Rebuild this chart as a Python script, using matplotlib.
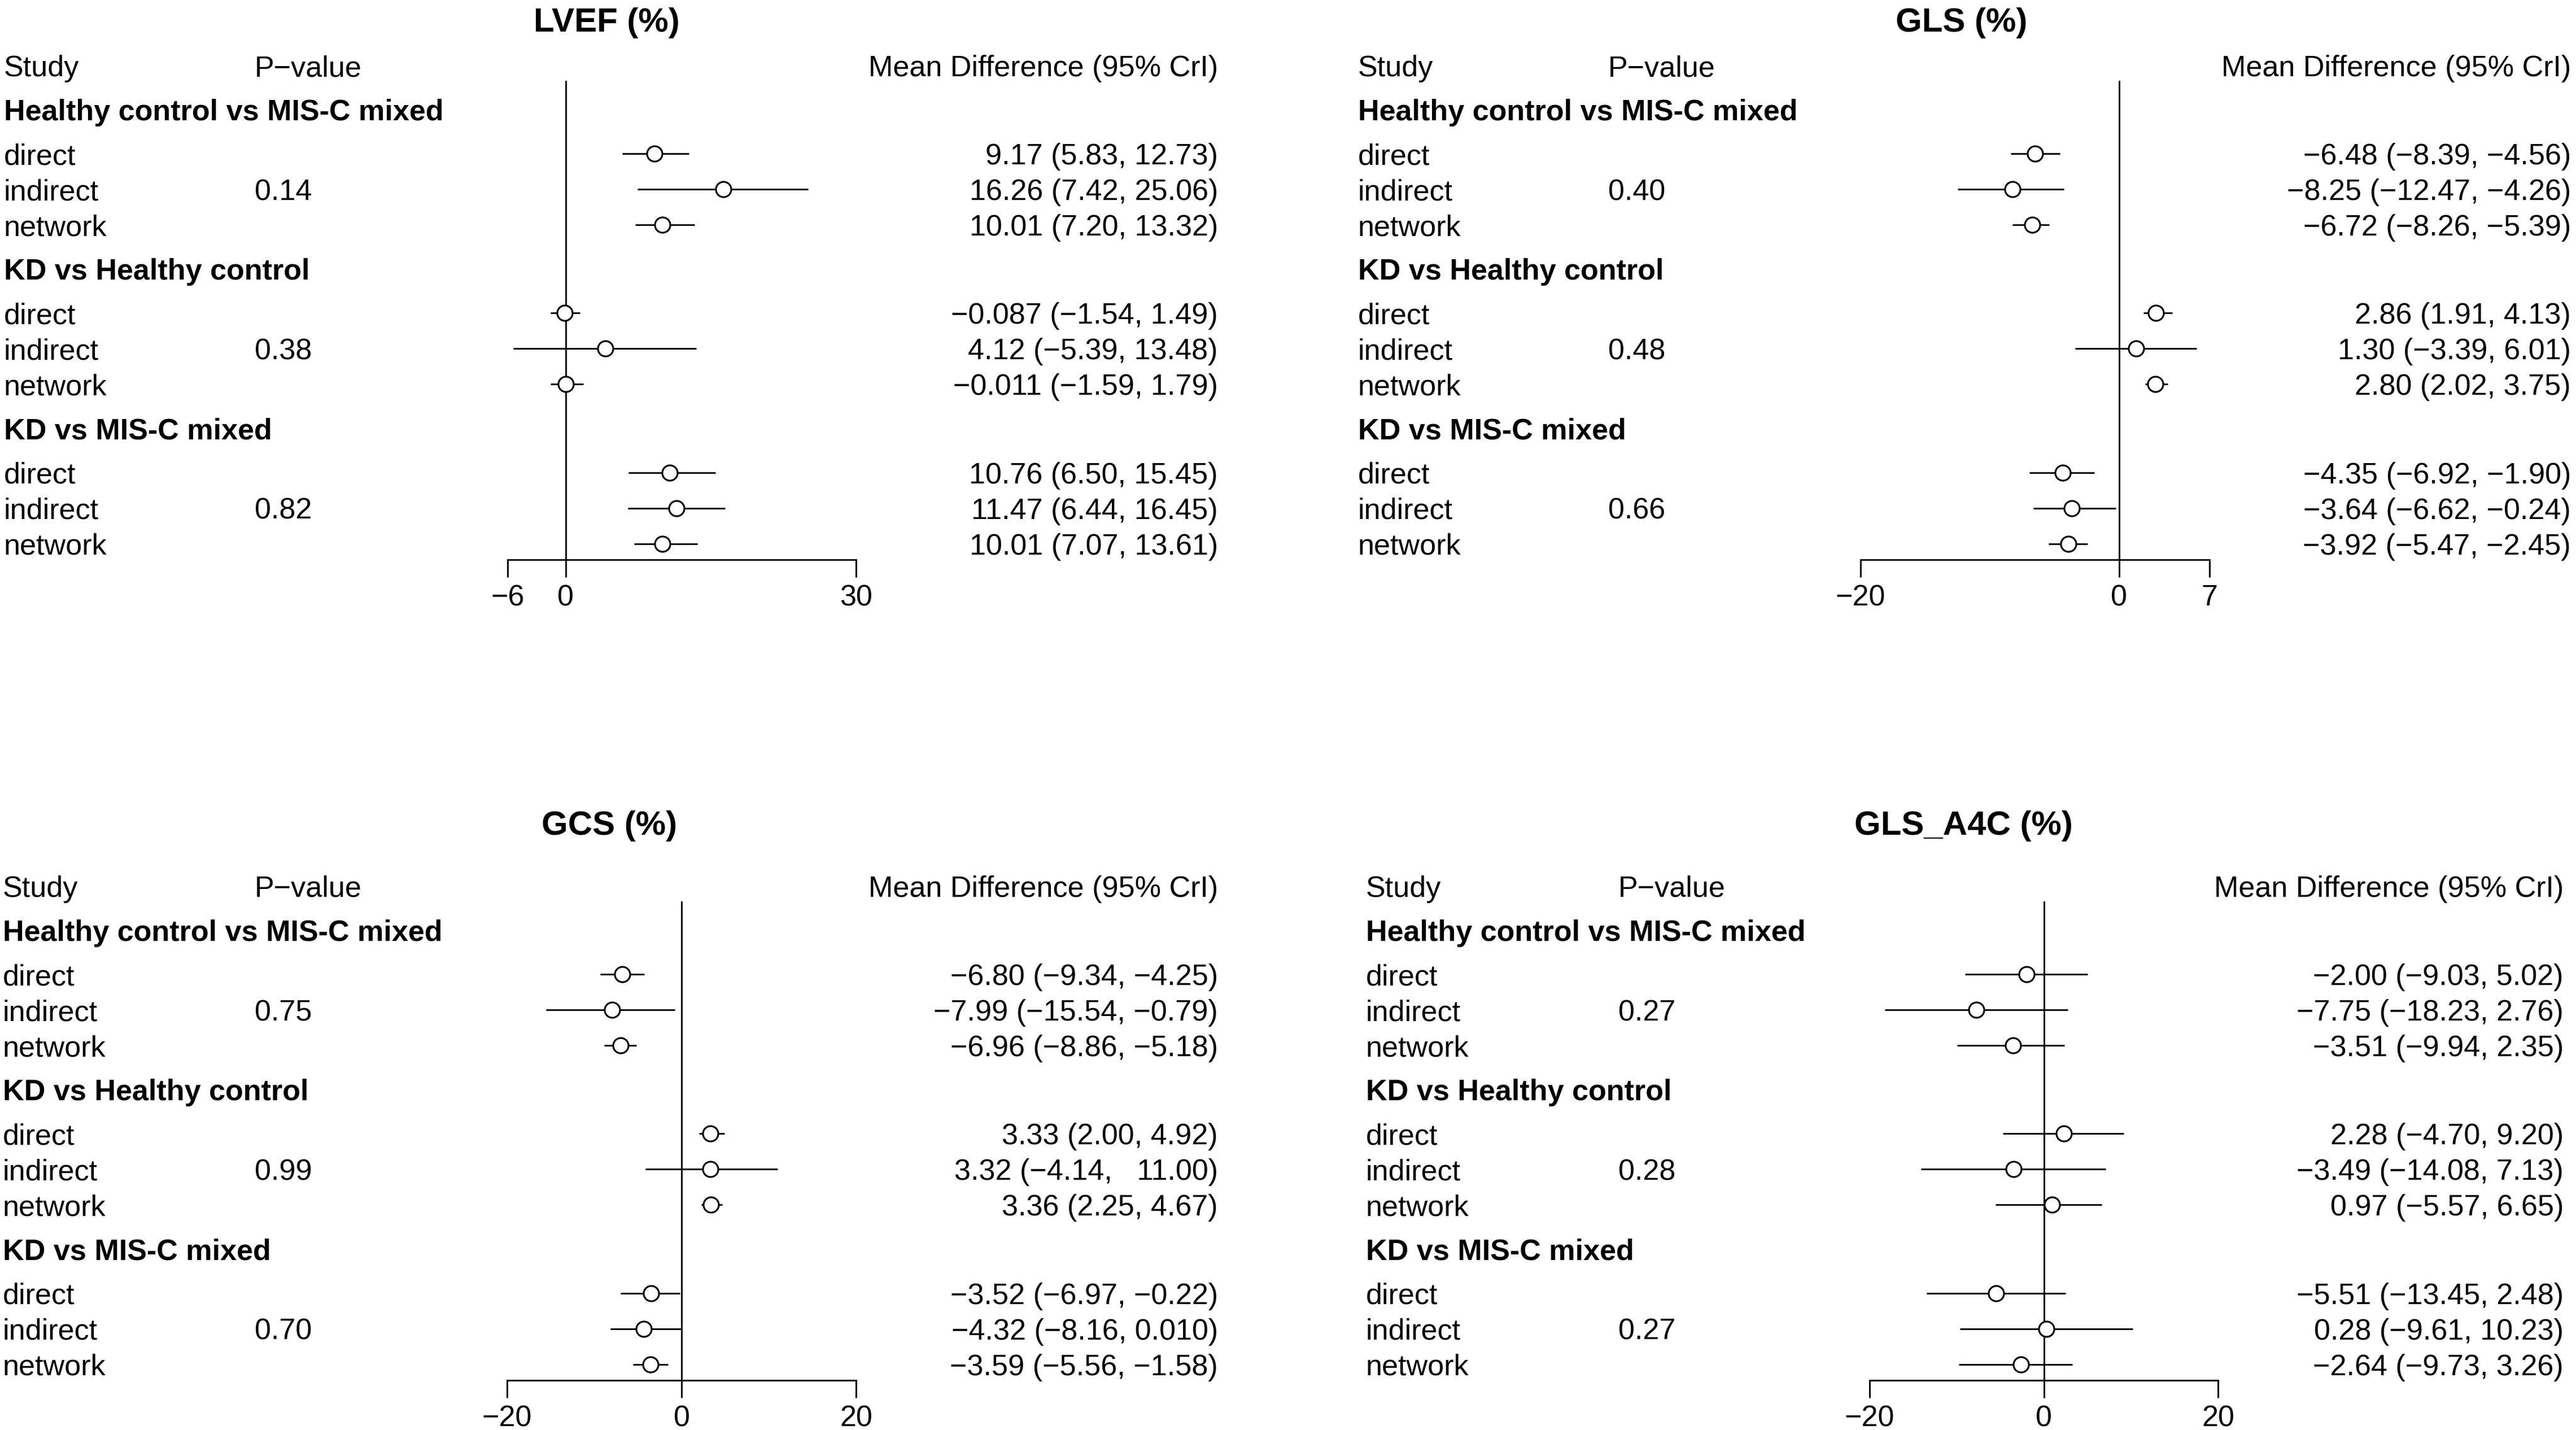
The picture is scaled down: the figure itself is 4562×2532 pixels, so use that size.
import matplotlib
matplotlib.use("Agg")
import matplotlib.pyplot as plt
from matplotlib.transforms import blended_transform_factory

plt.rcParams['font.family'] = ['Liberation Sans', 'DejaVu Sans']
plt.rcParams['font.size'] = 12.5

comparisons = ["Healthy control vs MIS-C mixed", "KD vs Healthy control", "KD vs MIS-C mixed"]
methods = ["direct", "indirect", "network"]

# LVEF
lvef_est = [9.17, 16.26, 10.01, -0.087, 4.12, -0.011, 10.76, 11.47, 10.01]
lvef_lo = [5.83, 7.42, 7.20, -1.54, -5.39, -1.59, 6.50, 6.44, 7.07]
lvef_hi = [12.73, 25.06, 13.32, 1.49, 13.48, 1.79, 15.45, 16.45, 13.61]
lvef_txt = ["9.17 (5.83, 12.73)", "16.26 (7.42, 25.06)", "10.01 (7.20, 13.32)",
            "\u22120.087 (\u22121.54, 1.49)", "4.12 (\u22125.39, 13.48)", "\u22120.011 (\u22121.59, 1.79)",
            "10.76 (6.50, 15.45)", "11.47 (6.44, 16.45)", "10.01 (7.07, 13.61)"]
lvef_p = ["0.14", "0.38", "0.82"]
lvef_ticks = [-6, 0, 30]

# GLS
gls_est = [-6.48, -8.25, -6.72, 2.86, 1.30, 2.80, -4.35, -3.64, -3.92]
gls_lo = [-8.39, -12.47, -8.26, 1.91, -3.39, 2.02, -6.92, -6.62, -5.47]
gls_hi = [-4.56, -4.26, -5.39, 4.13, 6.01, 3.75, -1.90, -0.24, -2.45]
gls_txt = ["\u22126.48 (\u22128.39, \u22124.56)", "\u22128.25 (\u221212.47, \u22124.26)", "\u22126.72 (\u22128.26, \u22125.39)",
           "2.86 (1.91, 4.13)", "1.30 (\u22123.39, 6.01)", "2.80 (2.02, 3.75)",
           "\u22124.35 (\u22126.92, \u22121.90)", "\u22123.64 (\u22126.62, \u22120.24)", "\u22123.92 (\u22125.47, \u22122.45)"]
gls_p = ["0.40", "0.48", "0.66"]
gls_ticks = [-20, 0, 7]

# GCS
gcs_est = [-6.80, -7.99, -6.96, 3.33, 3.32, 3.36, -3.52, -4.32, -3.59]
gcs_lo = [-9.34, -15.54, -8.86, 2.00, -4.14, 2.25, -6.97, -8.16, -5.56]
gcs_hi = [-4.25, -0.79, -5.18, 4.92, 11.00, 4.67, -0.22, 0.010, -1.58]
gcs_txt = ["\u22126.80 (\u22129.34, \u22124.25)", "\u22127.99 (\u221215.54, \u22120.79)", "\u22126.96 (\u22128.86, \u22125.18)",
           "3.33 (2.00, 4.92)", "3.32 (\u22124.14,   11.00)", "3.36 (2.25, 4.67)",
           "\u22123.52 (\u22126.97, \u22120.22)", "\u22124.32 (\u22128.16, 0.010)", "\u22123.59 (\u22125.56, \u22121.58)"]
gcs_p = ["0.75", "0.99", "0.70"]
gcs_ticks = [-20, 0, 20]

# GLS_A4C
a4c_est = [-2.00, -7.75, -3.51, 2.28, -3.49, 0.97, -5.51, 0.28, -2.64]
a4c_lo = [-9.03, -18.23, -9.94, -4.70, -14.08, -5.57, -13.45, -9.61, -9.73]
a4c_hi = [5.02, 2.76, 2.35, 9.20, 7.13, 6.65, 2.48, 10.23, 3.26]
a4c_txt = ["\u22122.00 (\u22129.03, 5.02)", "\u22127.75 (\u221218.23, 2.76)", "\u22123.51 (\u22129.94, 2.35)",
           "2.28 (\u22124.70, 9.20)", "\u22123.49 (\u221214.08, 7.13)", "0.97 (\u22125.57, 6.65)",
           "\u22125.51 (\u221213.45, 2.48)", "0.28 (\u22129.61, 10.23)", "\u22122.64 (\u22129.73, 3.26)"]
a4c_p = ["0.27", "0.28", "0.27"]
a4c_ticks = [-20, 0, 20]

W, H = 4562, 2532
LINE = 63  # px per text line
fig = plt.figure(figsize=(W / 300, H / 300), dpi=300)


def forest(title, est, lo, hi, txt, pvals, ticks, study_x, p_x, md_x,
           ax_left, ax_right, title_x, title_y, head_y):
    # row positions in line units below the header
    ypos, gpos = [], []
    y = 0.0
    for g in range(len(comparisons)):
        y += 1.24
        gpos.append(y)
        y += 0.24
        for m in range(len(methods)):
            y += 1.0
            ypos.append(y)
    axis_y = ypos[-1] + 0.45
    top = -1.0

    ax = fig.add_axes([ax_left / W, 1 - (head_y + LINE * axis_y) / H,
                       (ax_right - ax_left) / W, LINE * (axis_y - top) / H])
    ax.set_xlim(ticks[0], ticks[-1])
    ax.set_ylim(axis_y, top)
    ax.patch.set_visible(False)
    for s in ["top", "left", "right"]:
        ax.spines[s].set_visible(False)
    ax.spines["bottom"].set_linewidth(0.7)
    ax.set_xticks(ticks)
    ax.set_yticks([])
    ax.tick_params(axis="x", direction="out", length=7.4, width=0.7, pad=3, labelsize=12.5)

    ax.plot([0, 0], [0.45, axis_y], color="black", lw=0.7)
    ax.hlines(ypos, lo, hi, color="black", lw=0.7)
    ax.plot(est, ypos, "o", mfc="white", mec="black", ms=6.5, mew=0.75, clip_on=False)

    tr = blended_transform_factory(fig.transFigure, ax.transData)
    va = "center_baseline"
    ax.text(study_x / W, 0, "Study", transform=tr, ha="left", va=va)
    ax.text(p_x / W, 0, "P\u2212value", transform=tr, ha="left", va=va)
    ax.text(md_x / W, 0, "Mean Difference (95% CrI)", transform=tr, ha="right", va=va)
    for g, name in enumerate(comparisons):
        ax.text(study_x / W, gpos[g], name, transform=tr, ha="left", va=va, weight="bold")
        for m, meth in enumerate(methods):
            i = g * len(methods) + m
            ax.text(study_x / W, ypos[i], meth, transform=tr, ha="left", va=va)
            ax.text(md_x / W, ypos[i], txt[i], transform=tr, ha="right", va=va)
            if meth == "indirect":
                ax.text(p_x / W, ypos[i], pvals[g], transform=tr, ha="left", va=va)

    fig.text(title_x / W, 1 - title_y / H, title, ha="center", va=va,
             weight="bold", size=14.4)


forest("LVEF (%)", lvef_est, lvef_lo, lvef_hi, lvef_txt, lvef_p, lvef_ticks,
       7, 451, 2157, 899, 1516, 1074, 35, 116)
forest("GLS (%)", gls_est, gls_lo, gls_hi, gls_txt, gls_p, gls_ticks,
       2405, 2848, 4553, 3295, 3913, 3474, 35, 116)
forest("GCS (%)", gcs_est, gcs_lo, gcs_hi, gcs_txt, gcs_p, gcs_ticks,
       5, 451, 2157, 898, 1516, 1079, 1456, 1569)
forest("GLS_A4C (%)", a4c_est, a4c_lo, a4c_hi, a4c_txt, a4c_p, a4c_ticks,
       2419, 2866, 4540, 3311, 3928, 3477, 1456, 1569)

fig.savefig("out.png", dpi=300, facecolor="white")
